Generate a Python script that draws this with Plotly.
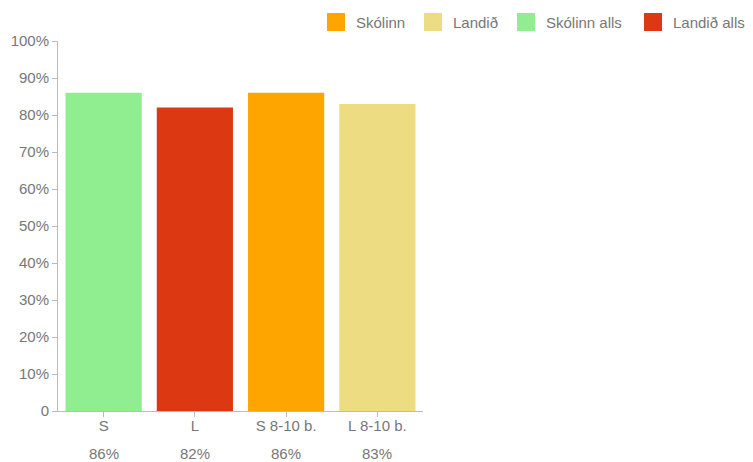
import plotly.graph_objects as go

categories = ["S", "L", "S 8-10 b.", "L 8-10 b."]
series_names = ["Skólinn", "Landið", "Skólinn alls", "Landið alls"]
series_cats = ["S 8-10 b.", "L 8-10 b.", "S", "L"]
series_values = [86, 83, 86, 82]
series_colors = ["#ffa500", "#eedc82", "#90ee90", "#dc3912"]
tick_vals = [0, 10, 20, 30, 40, 50, 60, 70, 80, 90, 100]
tick_text = ["0", "10%", "20%", "30%", "40%", "50%", "60%", "70%", "80%", "90%", "100%"]

FONT = "Liberation Sans, Arial, sans-serif"
GRAY = "#777777"

# page body has an 8px margin, so figure is 745x454 drawn at offset (8, 8)
W, H = 745, 454
ML, MR, MT, MB = 50, 330, 33, 51
PW, PH = W - ML - MR, H - MT - MB

def px_to_paper_x(px):
    return (px - ML) / PW

def px_to_paper_y(py):
    return (H - MB - py) / PH

fig = go.Figure()
for name, cat, val, col in zip(series_names, series_cats, series_values, series_colors):
    fig.add_trace(go.Bar(x=[cat], y=[val], name=name, showlegend=False,
                         marker=dict(color=col, line=dict(width=0)), hoverinfo="x+y"))

# percentage labels under categories
val_by_cat = dict(zip(series_cats, series_values))
for cat in categories:
    fig.add_annotation(x=cat, y=0, xref="x", yref="y", yanchor="middle", yshift=-42,
                       text=f"{val_by_cat[cat]}%", showarrow=False,
                       font=dict(family=FONT, size=15, color=GRAY))

# legend drawn as squares + text (single row, like the original)
legend_square_x = [319, 416, 509, 636]
SQ = 18
for name, col, sx in zip(series_names, series_colors, legend_square_x):
    fig.add_shape(type="rect", xref="paper", yref="paper",
                  x0=px_to_paper_x(sx), x1=px_to_paper_x(sx + SQ),
                  y0=px_to_paper_y(5 + SQ), y1=px_to_paper_y(5),
                  fillcolor=col, line=dict(width=0), layer="above")
    fig.add_annotation(xref="paper", yref="paper", x=px_to_paper_x(sx + 27),
                       y=px_to_paper_y(14), xanchor="left", yanchor="middle",
                       text=name, showarrow=False,
                       font=dict(family=FONT, size=15, color=GRAY))

fig.update_layout(
    width=W, height=H,
    margin=dict(l=ML, r=MR, t=MT, b=MB, autoexpand=False),
    paper_bgcolor="white", plot_bgcolor="white",
    barmode="overlay", bargap=0.165,
    font=dict(family=FONT, size=15, color=GRAY),
    showlegend=False,
    xaxis=dict(categoryorder="array", categoryarray=categories, showgrid=False,
               showline=True, linecolor="#bbbbbb", linewidth=1, ticks="outside",
               ticklen=5, tickcolor="#bbbbbb", zeroline=False, automargin=False,
               ticklabelstandoff=-4,
               tickfont=dict(family=FONT, size=15, color=GRAY)),
    yaxis=dict(range=[0, 100], tickvals=tick_vals, ticktext=tick_text, showgrid=False,
               showline=True, linecolor="#bbbbbb", linewidth=1, ticks="outside",
               ticklen=5, tickcolor="#bbbbbb", zeroline=False, automargin=False,
               tickfont=dict(family=FONT, size=15, color=GRAY)),
)

fig.write_html("out.html")
